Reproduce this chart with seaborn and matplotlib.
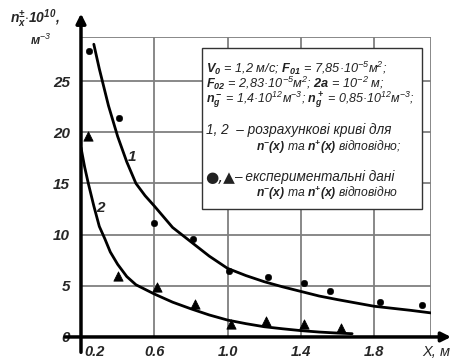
import numpy as np
import pandas as pd
import matplotlib
matplotlib.use("Agg")
import matplotlib.pyplot as plt
import matplotlib.transforms as mtransforms
from matplotlib.patches import Rectangle
import seaborn as sns

# experimental points, n-(x) (circles) and n+(x) (triangles)
x_minus = [0.243, 0.407, 0.60, 0.814, 1.01, 1.22, 1.42, 1.56, 1.83, 2.06]
n_minus = [27.9, 21.4, 11.1, 9.6, 6.4, 5.9, 5.3, 4.5, 3.4, 3.1]
x_plus = [0.237, 0.40, 0.613, 0.82, 1.02, 1.21, 1.42, 1.62]
n_plus = [19.6, 6.0, 4.9, 3.2, 1.3, 1.6, 1.3, 0.9]

# calculated curves 1 and 2
x_curve1 = [0.27, 0.30, 0.35, 0.40, 0.45, 0.50, 0.55, 0.60, 0.70, 0.80, 0.90,
            1.00, 1.10, 1.20, 1.30, 1.40, 1.50, 1.60, 1.80, 2.00, 2.11]
n_curve1 = [28.6, 26.2, 22.6, 19.6, 17.1, 15.0, 13.8, 12.8, 10.7, 9.3, 7.9,
            6.7, 6.0, 5.4, 4.9, 4.45, 4.0, 3.65, 3.0, 2.6, 2.35]
x_curve2 = [0.20, 0.22, 0.24, 0.27, 0.30, 0.33, 0.36, 0.40, 0.45, 0.50, 0.60,
            0.70, 0.80, 0.90, 1.00, 1.10, 1.20, 1.30, 1.40, 1.50, 1.60, 1.68]
n_curve2 = [18.5, 16.6, 15.0, 12.8, 10.8, 9.6, 8.3, 7.1, 5.9, 5.1, 4.2,
            3.4, 2.75, 2.15, 1.65, 1.3, 1.0, 0.8, 0.62, 0.48, 0.38, 0.32]

x_ticks = [0.2, 0.6, 1.0, 1.4, 1.8]
y_ticks = [0, 5, 10, 15, 20, 25]
x_lim = (0.2, 2.11)
y_lim = (0, 29.3)

sns.set_style("white")
plt.rcParams['font.family'] = ['Liberation Sans', 'DejaVu Sans']
plt.rcParams['mathtext.fontset'] = 'custom'
plt.rcParams['mathtext.rm'] = 'Liberation Sans:italic'
plt.rcParams['mathtext.it'] = 'Liberation Sans:italic'
plt.rcParams['mathtext.bf'] = 'Liberation Sans:bold:italic'
plt.rcParams['mathtext.bfit'] = 'Liberation Sans:bold:italic'

fig = plt.figure(figsize=(4.55, 3.6), dpi=100)
ax = fig.add_axes([0.178, 0.064, 0.947 - 0.178, 0.897 - 0.064])

grid_c = '#7f7f7f'
for yv in y_ticks[1:] + [y_lim[1]]:
    ax.axhline(yv, color=grid_c, lw=1.3, zorder=1)
for xv in x_ticks[1:] + [x_lim[1]]:
    ax.axvline(xv, color=grid_c, lw=1.3, zorder=1)

c1 = pd.DataFrame({'x': x_curve1, 'n': n_curve1})
c2 = pd.DataFrame({'x': x_curve2, 'n': n_curve2})
sns.lineplot(data=c1, x='x', y='n', color='black', lw=2, sort=False,
             estimator=None, ax=ax, zorder=3)
sns.lineplot(data=c2, x='x', y='n', color='black', lw=2, sort=False,
             estimator=None, ax=ax, zorder=3)
sns.scatterplot(x=x_minus, y=n_minus, marker='o', s=22, color='black',
                edgecolor='black', ax=ax, zorder=4)
sns.scatterplot(x=x_plus, y=n_plus, marker='^', s=45, color='black',
                edgecolor='black', ax=ax, zorder=4)

ax.set_xlim(*x_lim)
ax.set_ylim(*y_lim)
for s in ax.spines.values():
    s.set_visible(False)
ax.set_xlabel('')
ax.set_ylabel('')

ax.set_xticks(x_ticks)
ax.set_xticklabels([f'{v:.1f}' for v in x_ticks])
ax.set_yticks(y_ticks)
ax.set_yticklabels([str(v) for v in y_ticks])
ax.tick_params(axis='x', length=0, labelsize=10.5, pad=6)
ax.tick_params(axis='y', length=0, labelsize=11, pad=8)
for lab in ax.get_xticklabels() + ax.get_yticklabels():
    lab.set_fontweight('bold')
    lab.set_fontstyle('italic')
first = ax.get_xticklabels()[0]
first.set_transform(first.get_transform() +
                    mtransforms.ScaledTranslation(0.14, 0, fig.dpi_scale_trans))

# axes with arrows
arr = dict(arrowstyle='-|>', color='black', lw=2.5, mutation_scale=14,
           shrinkA=0, shrinkB=0)
ax.annotate('', xy=(2.22, 0), xytext=(0.113, 0), arrowprops=arr,
            annotation_clip=False, zorder=5)
ax.annotate('', xy=(0.2, 31.6), xytext=(0.2, -1.5), arrowprops=arr,
            annotation_clip=False, zorder=5)

fig.text(450 / 455, 1 - 352 / 360, 'X, м', fontsize=10.5, fontstyle='italic',
         ha='right', va='center')
fig.text(10 / 455, 1 - 19 / 360,
         r'$\mathbf{n_x^{\pm}}$$\mathbf{\cdot 10^{10}}$,',
         fontsize=10, fontweight='bold', fontstyle='italic', ha='left',
         va='center')
fig.text(51 / 455, 1 - 40 / 360, r'м$^{-3}$', fontsize=9, fontweight='bold',
         fontstyle='italic', ha='right', va='center')

ax.text(0.479, 17.6, '1', fontsize=11, fontweight='bold', fontstyle='italic',
        ha='center', va='center', zorder=5)
ax.text(0.304, 12.6, '2', fontsize=11, fontweight='bold', fontstyle='italic',
        ha='center', va='center', zorder=5)

# info box
ax.add_patch(Rectangle((0.346, 0.427), 0.628, 0.536, transform=ax.transAxes,
                       facecolor='white', edgecolor='#333333', lw=1,
                       zorder=6))
def box_text(px, py, s, size, **kw):
    fig.text(px / 455, 1 - py / 360, s, fontsize=size, fontstyle='italic',
             ha='left', va='center', color='#222222', zorder=7, **kw)

box_text(206, 68, r'$\mathbf{V_0}$ = 1,2 м/с; $\mathbf{F_{01}}$ = 7,85·10$^{-5}$м$^2$;', 9.2)
box_text(206, 83, r'$\mathbf{F_{02}}$ = 2,83·10$^{-5}$м$^2$; $\mathbf{2a}$ = 10$^{-2}$ м;', 9.2)
box_text(206, 100, r'$\mathbf{n_g^-}$ = 1,4·10$^{12}$м$^{-3}$; $\mathbf{n_g^+}$ = 0,85·10$^{12}$м$^{-3}$;', 9.0)
box_text(206, 130, '1, 2  – розрахункові криві для', 9.8)
box_text(256, 147, r'$\mathbf{n^{-}(x)}$ та $\mathbf{n^{+}(x)}$ відповідно;', 8.7)
box_text(205, 177, '●,▲', 11, family=['DejaVu Sans'])
box_text(234, 177, '– експериментальні дані', 9.8)
box_text(256, 193, r'$\mathbf{n^{-}(x)}$ та $\mathbf{n^{+}(x)}$ відповідно', 8.7)

fig.savefig('out.png', dpi=100)
